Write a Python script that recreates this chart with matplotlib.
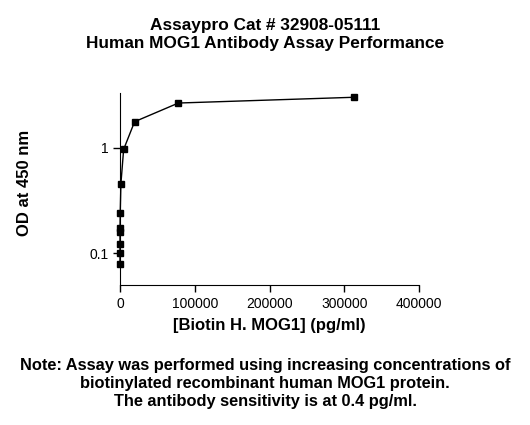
import numpy as np
import matplotlib.pyplot as plt
from matplotlib.ticker import FixedLocator, NullLocator, FixedFormatter

plt.rcParams['font.family'] = ['Liberation Sans', 'DejaVu Sans']

# Standard curve (4-fold dilutions)
conc = [312500, 78125, 19531, 4883, 1221, 305, 76, 19, 4.8, 1.2, 0.3]
od = [3.04, 2.68, 1.78, 0.97, 0.457, 0.24, 0.173, 0.158, 0.122, 0.1, 0.0785]

xticks = [0, 100000, 200000, 300000, 400000]
yticks = [0.1, 1]
ytick_labels = ['0.1', '1']

fig = plt.figure(figsize=(5.3, 4.25), dpi=100)
ax = fig.add_axes([0.2264, 0.3294, 0.5642, 0.4518])

ax.plot(conc, od, color='black', lw=1, marker='s', ms=4.5, clip_on=False)

ax.set_yscale('log')
ax.set_xlim(0, 400000)
ax.set_ylim(0.0496, 3.34)
ax.xaxis.set_major_locator(FixedLocator(xticks))
ax.xaxis.set_major_formatter(FixedFormatter([str(t) for t in xticks]))
ax.yaxis.set_major_locator(FixedLocator(yticks))
ax.yaxis.set_major_formatter(FixedFormatter(ytick_labels))
ax.yaxis.set_minor_locator(NullLocator())

for s in ['top', 'right']:
    ax.spines[s].set_visible(False)
ax.tick_params(direction='out', length=5, width=1, labelsize=10)

ax.set_xlabel('[Biotin H. MOG1] (pg/ml)', fontsize=12, fontweight='bold', labelpad=5)
ax.set_ylabel('OD at 450 nm', fontsize=12, fontweight='bold')
ax.yaxis.set_label_coords(-0.295, 0.53)

fig.text(0.5, 0.957, 'Assaypro Cat # 32908-05111\nHuman MOG1 Antibody Assay Performance',
         ha='center', va='top', fontsize=12.4, fontweight='bold', linespacing=1.2)
fig.text(0.5, 0.157, 'Note: Assay was performed using increasing concentrations of\n'
         'biotinylated recombinant human MOG1 protein.\n'
         'The antibody sensitivity is at 0.4 pg/ml.',
         ha='center', va='top', fontsize=11.8, fontweight='bold', linespacing=1.24)

fig.savefig('out.png', dpi=100)
